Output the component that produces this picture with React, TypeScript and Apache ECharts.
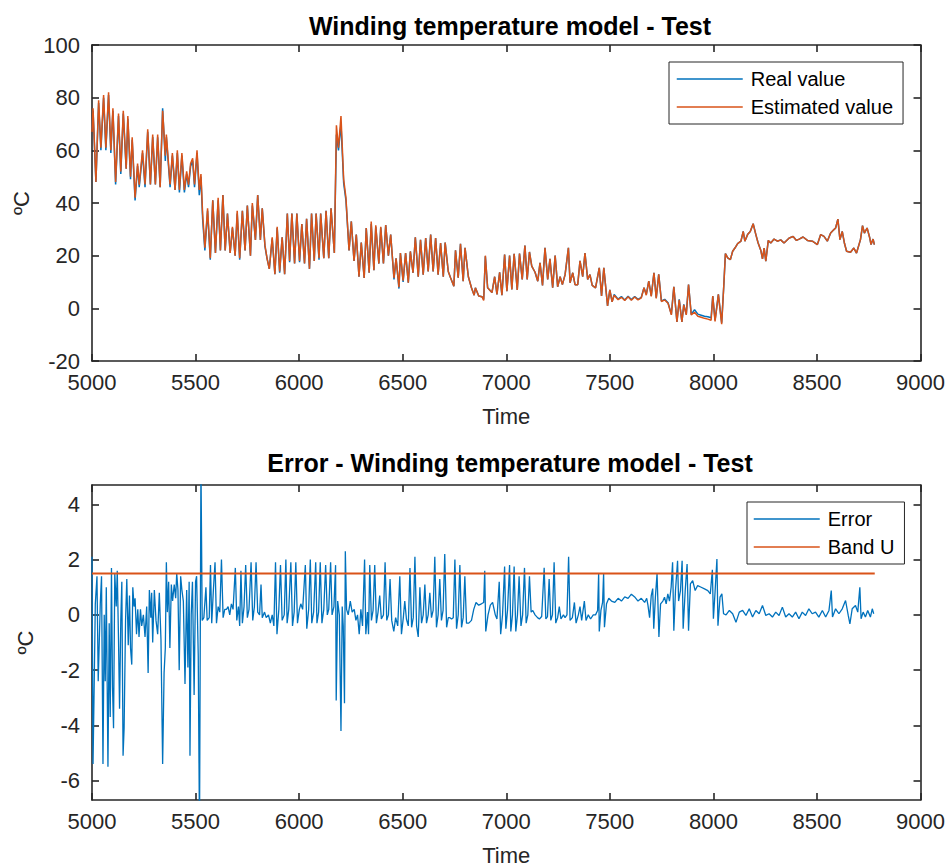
import React, { useEffect, useRef } from 'react';
import * as echarts from 'echarts';

// ---------- Data ----------
const tTemp = [
  5000,5005,5019,5032,5043,5056,5067,5080,5091,5101,
  5114,5128,5139,5151,5165,5173,5186,5194,5208,5220,
  5228,5244,5256,5269,5282,5293,5306,5317,5329,5341,
  5354,5359,5377,5388,5401,5412,5422,5434,5446,5457,
  5466,5476,5486,5495,5507,5518,5526,5534,5545,5558,
  5571,5583,5596,5609,5620,5632,5643,5654,5667,5678,
  5691,5701,5713,5726,5739,5750,5765,5774,5789,5800,
  5813,5822,5835,5845,5856,5870,5883,5894,5906,5918,
  5930,5943,5954,5965,5978,5989,6002,6013,6026,6036,
  6050,6060,6073,6082,6096,6104,6119,6130,6143,6154,
  6170,6180,6190,6202,6215,6226,6241,6252,6265,6276,
  6289,6300,6314,6324,6338,6348,6361,6370,6385,6394,
  6407,6418,6431,6442,6458,6468,6482,6489,6502,6514,
  6527,6537,6550,6561,6575,6586,6599,6611,6623,6635,
  6647,6659,6671,6683,6696,6705,6720,6731,6747,6755,
  6768,6779,6792,6801,6817,6832,6845,6851,6867,6883,
  6891,6899,6910,6931,6944,6955,6968,6979,6992,7003,
  7016,7027,7038,7053,7064,7077,7090,7101,7112,7123,
  7139,7152,7163,7175,7187,7200,7211,7224,7236,7248,
  7260,7271,7284,7300,7308,7321,7332,7345,7356,7369,
  7380,7393,7404,7415,7431,7449,7460,7471,7489,7500,
  7511,7521,7540,7556,7572,7588,7604,7620,7636,7652,
  7665,7676,7688,7700,7713,7724,7736,7749,7765,7781,
  7797,7809,7824,7835,7848,7857,7869,7880,7893,7909,
  7925,7941,7957,7973,7989,7997,8008,8024,8040,8050,
  8058,8069,8082,8093,8104,8117,8133,8144,8152,8165,
  8178,8192,8205,8216,8229,8237,8245,8253,8265,8277,
  8293,8309,8325,8341,8366,8385,8401,8414,8433,8454,
  8478,8502,8518,8534,8550,8566,8582,8590,8601,8611,
  8622,8633,8643,8662,8678,8691,8710,8720,8729,8742,
  8755,8761,8771,8777,
];

const realVals = [
  68,75,48,78,60,80,60,81,59,75,
  47,73,51,74,53,72,49,64,41,54,
  46,59,46,67,47,65,47,65,46,76,
  56,65,46,58,45,59,44,58,44,51,
  46,54,56,46,59,43,50,34,22,37,
  18.5,41,21,41,22,43,22,36,21,30.5,
  20,36,18.5,37,22,39,20,39,26,43,
  26,38,23.5,19,15,26.5,13,30.5,13.5,27,
  13,36,17.5,36,17,36,17.5,32,17,34,
  15,36,18,36,18.5,36,19,37,19,38,
  21,66,60,70,47.5,41,22,33,18,28,
  12,25,11.5,30.5,13.5,32,14.5,31,17,30.7,
  17,31.6,20,28,11,19,7.5,21,10,21,
  9.7,21.6,13.5,27,12,26,12.8,26.7,14,28,
  14,26.7,12.8,24.8,12,25,14,11.6,8.4,22,
  11.6,24.5,10.3,23,12,7.8,5,7.8,4.7,4.4,
  3.4,19.8,7.8,6,12,5.3,13.7,5,20.4,6.5,
  20,7.2,20.7,7,20.8,11,23.8,11,21.4,16,
  13.7,10.3,17.3,8.7,23,11,18.8,7.8,20,8.2,
  12,9,12.8,23,9.7,13.5,9,9,18,12,
  21,11,12.8,8.7,7.8,15.4,4.7,15.4,0.9,7,
  2.5,5.3,3.5,4.5,3.2,4.6,3.3,4.5,3.4,4.2,
  7.8,5.3,10.3,4.7,13.5,4,12.9,2.8,3.4,2.1,
  -2.3,8.2,-5.2,3.4,-5.2,1.5,-2.3,9,-2.3,-0.5,
  -2.2,-2.6,-3,-3.2,-3.6,4.7,-4.5,5.3,-5.5,8.4,
  20.8,19.2,18.5,21.7,22.9,24.6,25.5,29.2,25.5,28,
  29.2,32.1,28,24.8,22,18.8,22.9,17.9,25.8,24.8,
  26.3,25.5,26,24.8,26.7,27.3,25.8,26.3,27.1,25.8,
  25.5,24.2,28,27.3,25.5,28.6,29.9,30.5,33.9,26.1,
  29.2,24.6,21.7,21.3,22.9,21,26.1,31.4,28.6,30.5,
  26.7,24.2,26.3,24.2,
];

const estVals = [
  67,76,48,79,61,81,61,82,60,76,
  48,74,52,75,53,73,50,65,42,55,
  47,60,47,68,47,66,47,66,46,75,
  58,66,47,59,45,60,45,59,45,52,
  47,55,57,47,60,45,51,36,23,38,
  19,41,21,42,22,43,22,36,21,31,
  20,37,19,37,22,39,20,40,26,43,
  26,38,24,19,15,27,13,31,14,27,
  13,36,18,36,17,36,18,32,17,34,
  15,36,18,36,19,36,19,37,19,38,
  21,69.5,61,73,49,42,22,33,18,28,
  12,25,11.5,30.5,13.5,33,14.5,31.5,17,31,
  17,31.6,20,28,11.5,19,8,21,10.5,21,
  9.7,21.6,13.5,27,12,26,12.8,26.7,14,28,
  14,26.7,12.8,24.8,12,25,14,11.6,8.4,22,
  11.6,24.5,10.3,23,12,7.8,5,7.8,4.7,4.4,
  3,20,7.8,6,12,5.3,13.7,5,20.4,6.5,
  20,7.2,20.7,7,20.8,11,23.8,11,21.4,16,
  13.7,10.3,17.3,8.7,23,11,18.8,7.8,20,8.2,
  12,9,12.8,23,9.7,13.5,9,9,18,12,
  21,11,12.8,8.7,7.8,15.4,4.7,15.4,0.9,7,
  2.5,5,3.3,4.2,3,4.4,3.1,4.3,3.2,4,
  7.8,5,10.3,4.5,13.5,3.8,12.9,2.6,3.2,1.9,
  -2.5,8.2,-5.2,3.2,-5.2,1.3,-2.5,9,-2.5,-1.5,
  -3,-3.4,-3.8,-4.1,-4.5,4.7,-5,5.3,-6,8.4,
  20.8,19.2,18.5,21.7,22.9,24.6,25.5,29.2,25.5,28,
  29.2,32.1,28,24.8,22,18.8,22.9,17.9,25.8,24.8,
  26.3,25.5,26,24.8,26.7,27.3,25.8,26.3,27.1,25.8,
  25.5,24.2,28,27.3,25.5,28.6,29.9,30.5,33.9,26.1,
  29.2,24.6,21.7,21.3,22.9,21,26.1,31.4,28.6,30.5,
  26.7,24.2,26.3,24.2,
];

const tErr = [
  5000,5005,5011,5016,5024,5030,5040,5046,5053,5059,
  5064,5069,5077,5083,5088,5094,5099,5104,5110,5117,
  5122,5128,5133,5139,5144,5150,5155,5162,5168,5175,
  5181,5186,5192,5197,5203,5208,5215,5221,5227,5234,
  5240,5248,5256,5264,5271,5277,5284,5288,5293,5301,
  5309,5317,5325,5333,5341,5348,5354,5359,5364,5370,
  5376,5383,5389,5397,5404,5409,5415,5421,5428,5434,
  5441,5449,5457,5463,5469,5473,5479,5485,5493,5500,
  5505,5513,5519,5526,5532,5540,5550,5556,5566,5572,
  5578,5586,5594,5601,5609,5617,5625,5633,5641,5649,
  5657,5665,5673,5681,5692,5699,5707,5713,5719,5726,
  5734,5742,5750,5758,5768,5776,5784,5792,5800,5809,
  5816,5822,5833,5841,5852,5861,5870,5878,5886,5893,
  5902,5910,5918,5928,5936,5942,5950,5960,5968,5976,
  5984,5992,6001,6008,6017,6030,6037,6046,6054,6061,
  6070,6080,6086,6094,6102,6110,6119,6128,6136,6143,
  6152,6159,6168,6176,6179,6186,6194,6202,6208,6213,
  6219,6223,6229,6237,6247,6256,6266,6274,6282,6290,
  6298,6306,6316,6322,6330,6335,6341,6349,6357,6365,
  6373,6381,6389,6397,6407,6415,6423,6431,6439,6447,
  6457,6466,6476,6486,6494,6503,6510,6518,6527,6535,
  6543,6551,6559,6567,6575,6583,6591,6599,6607,6615,
  6623,6631,6639,6647,6655,6663,6671,6679,6687,6695,
  6703,6712,6720,6728,6736,6744,6752,6760,6768,6776,
  6784,6792,6800,6808,6819,6832,6843,6854,6867,6880,
  6891,6896,6901,6912,6923,6934,6947,6955,6966,6973,
  6982,6992,6998,7006,7016,7022,7030,7038,7046,7054,
  7062,7071,7079,7088,7096,7104,7112,7120,7128,7139,
  7151,7160,7171,7183,7191,7199,7207,7215,7223,7231,
  7239,7248,7256,7264,7276,7284,7293,7301,7308,7319,
  7329,7337,7348,7356,7364,7377,7385,7396,7407,7420,
  7431,7441,7446,7449,7457,7465,7470,7474,7484,7495,
  7508,7524,7540,7556,7572,7588,7604,7620,7636,7652,
  7668,7678,7684,7692,7700,7707,7712,7720,7728,7737,
  7745,7756,7764,7772,7780,7788,7796,7803,7809,7817,
  7827,7832,7841,7849,7854,7864,7873,7880,7889,7900,
  7912,7924,7941,7957,7973,7985,7995,8000,8008,8017,
  8022,8032,8041,8049,8061,8077,8093,8109,8125,8141,
  8157,8173,8189,8205,8221,8237,8253,8269,8285,8301,
  8317,8333,8349,8365,8381,8397,8413,8429,8445,8461,
  8477,8493,8509,8526,8542,8558,8569,8575,8590,8606,
  8622,8638,8651,8659,8670,8686,8697,8707,8713,8723,
  8734,8745,8758,8767,8774,
];

const errVals = [
  2.1,-5.4,-2.3,0.4,1.4,-2.4,0.4,1.4,-5.4,0,
  -2.4,1,-5.5,-0.3,-3.7,1.7,-2.6,-4.1,1.5,0.3,
  1.6,-0.9,-3.4,-0.2,1.2,-5.1,-4.1,-0.2,1.3,-1.1,
  0.7,-1.2,-1.8,1,0.3,0.6,-0.7,0.2,-0.8,0.2,
  -0.4,0,-0.8,0.3,-2.1,0.9,-0.1,0.8,-1,0.9,
  -0.2,-0.7,0.8,-0.9,-5.4,-2.1,-1.2,1.9,0.1,1.2,
  -1.2,1.1,0.5,1.1,0.6,1.5,0.9,-2,1.4,0.9,
  0.5,-2.5,0.9,-1.9,1.2,-5.1,0,1.2,-2.9,1.2,
  1.4,-1.5,-8,5.5,-0.2,-0.1,1,-0.2,-0.1,1.8,
  -0.3,0.9,1.9,-0.3,0.3,0.1,2,-0.1,0.2,0.2,
  0.3,0,0.4,0.2,1.7,-0.2,0.3,-0.4,1.6,-0.3,
  0.3,1.8,-0.1,0.2,1.9,-0.2,0.3,1.9,0.1,0,
  1.1,-0.1,0.1,-0.1,0,-0.3,0,-0.4,1.9,-0.7,
  0.2,1.8,-0.2,0,2,-0.3,0.2,1.9,-0.4,0.1,
  1.9,-0.3,0.2,0.4,0.2,1.8,-0.5,0.2,2,-0.3,
  0.1,1.9,-0.3,0.1,1.9,-0.3,0.2,1.8,0,0.2,
  1.9,0,0.3,1.8,-3.1,0.5,0,-4.2,0.3,-0.4,
  -3.2,2.3,0.2,0,0.5,0.1,0.2,-0.2,0,-0.7,
  0.2,-0.4,2,-0.7,0.1,-0.7,1.8,-0.2,0.16,1.8,
  -0.3,0.1,0.7,-0.15,0,1.9,-0.2,0,1.3,-0.2,
  -0.6,-0.1,-0.4,1.4,-0.7,-0.1,0.5,-0.15,-0.4,1.7,
  -0.45,-0.1,2.1,-0.4,-0.8,1,-0.3,0,1.1,-0.3,
  0,0.8,-0.1,0.16,2.1,-0.45,0,1.3,-0.2,0.16,
  2.2,-0.45,-0.1,-0.1,-0.15,-0.1,2,-0.5,0,1.8,
  -0.45,-0.1,1.4,-0.3,-0.3,-0.2,0.2,0.45,0.35,0.4,
  0.45,1.6,-0.6,0,0.35,0.45,0,-0.15,1.2,-0.7,
  0,1.75,-0.5,0.16,1.8,-0.6,0,1.75,-0.6,0,
  1.4,-0.4,0,1.7,-0.3,0,1.4,0.1,0.16,0,
  -0.1,-0.15,-0.06,1.7,-0.15,-0.06,1.3,-0.2,0,1.9,
  -0.3,-0.1,0.3,-0.15,0,-0.1,0,2.1,-0.2,-0.1,
  0.45,-0.3,0,0.3,-0.2,0.5,-0.2,0,-0.15,0,
  0,0.16,1.5,-0.6,0.16,0.45,1.5,-0.45,0.4,0.6,
  0.5,0.45,0.6,0.5,0.65,0.6,0.75,0.65,0.5,0.6,
  0.45,0.6,0.35,-0.1,0.7,0.95,-0.5,0.65,1.5,-0.8,
  0.4,0.5,0.64,0.4,0.76,0.5,1,1.9,-0.57,0.88,
  1.96,0.5,0.88,1.96,-0.5,0.88,1.84,-0.57,1.12,1.24,
  0.88,1.06,1,0.94,0.88,0.76,1.63,-0.14,0.82,2.02,
  -0.39,0.64,0.76,0.04,0,0.16,0.04,-0.27,0.1,0.16,
  -0.02,0.22,-0.08,0.16,0.04,0.34,-0.02,0.04,-0.08,0.1,
  -0.02,0.28,-0.08,0.04,-0.08,0.1,-0.14,0.1,-0.02,0.22,
  0.04,0.1,-0.08,0.16,-0.08,0.16,0.88,-0.08,0.22,0.04,
  0.22,0.52,-0.02,-0.33,0.22,0.34,0.1,1,-0.14,0.1,
  -0.08,0.16,-0.08,0.22,0.04,
];

const bandUValue = 1.5;
const bandUStart = 5000;
const bandUEnd = 8779;

const errTicks = [-6, -4, -2, 0, 2, 4];

// ---------- Styling ----------
const FONT = 'Liberation Sans, Arial, Helvetica, sans-serif';
const AX = '#262626';
const BLUE = '#0072BD';
const ORANGE = '#D95319';

function xAxisDef(gridIndex: number, position: 'top' | 'bottom', labels: boolean) {
  return {
    type: 'value',
    gridIndex,
    position,
    min: 5000,
    max: 9000,
    interval: 500,
    name: labels ? 'Time' : '',
    nameLocation: 'middle',
    nameGap: 44,
    nameTextStyle: { color: AX, fontSize: 22, fontFamily: FONT },
    axisLine: { show: true, onZero: false, lineStyle: { color: AX, width: 1.6 } },
    axisTick: { show: true, inside: true, length: 7, lineStyle: { color: AX, width: 1.6 } },
    axisLabel: {
      show: labels, color: AX, fontSize: 22, fontFamily: FONT, margin: 10,
      formatter: (v: number) => String(v),
    },
    splitLine: { show: false },
  };
}

function yAxisDef(gridIndex: number, position: 'left' | 'right', labels: boolean, extra: any) {
  return {
    type: 'value',
    gridIndex,
    position,
    name: labels ? 'ºC' : '',
    nameLocation: 'middle',
    nameGap: 56,
    nameRotate: 90,
    nameTextStyle: { color: AX, fontSize: 22, fontFamily: FONT },
    axisLine: { show: true, onZero: false, lineStyle: { color: AX, width: 1.6 } },
    splitLine: { show: false },
    ...extra,
    axisTick: { show: true, inside: true, length: 7, lineStyle: { color: AX, width: 1.6 }, ...(extra.axisTick || {}) },
    axisLabel: {
      show: labels, color: AX, fontSize: 22, fontFamily: FONT, margin: 12,
      formatter: (v: number) => String(v),
      ...(extra.axisLabel || {}),
    },
  };
}

const legendBase = {
  orient: 'vertical',
  backgroundColor: '#ffffff',
  borderColor: AX,
  borderWidth: 1,
  borderRadius: 0,
  itemWidth: 66,
  itemHeight: 14,
  itemGap: 8,
  itemStyle: { opacity: 0 },
  lineStyle: { width: 1.5 },
  textStyle: { color: '#000', fontSize: 20, fontFamily: FONT, padding: [0, 0, 0, 3] },
  selectedMode: false,
};

export default function App() {
  const ref = useRef<HTMLDivElement>(null);

  useEffect(() => {
    if (!ref.current) return;
    const chart = echarts.init(ref.current, null, { renderer: 'svg' });

    const realData = tTemp.map((t, i) => [t, realVals[i]]);
    const estData = tTemp.map((t, i) => [t, estVals[i]]);
    const errData = tErr.map((t, i) => [t, errVals[i]]);
    const bandData = [[bandUStart, bandUValue], [bandUEnd, bandUValue]];

    chart.setOption({
      animation: false,
      backgroundColor: '#ffffff',
      title: [
        {
          text: 'Winding temperature model - Test',
          left: 510,
          top: 13,
          textAlign: 'center',
          padding: 0,
          textStyle: { fontSize: 25, fontWeight: 'bold', color: '#000', fontFamily: FONT },
        },
        {
          text: 'Error - Winding temperature model - Test',
          left: 510,
          top: 450,
          textAlign: 'center',
          padding: 0,
          textStyle: { fontSize: 25, fontWeight: 'bold', color: '#000', fontFamily: FONT },
        },
      ],
      grid: [
        { left: 92, width: 829, top: 45, height: 316 },
        { left: 92, width: 829, top: 485, height: 315 },
      ],
      xAxis: [
        xAxisDef(0, 'bottom', true),
        xAxisDef(0, 'top', false),
        xAxisDef(1, 'bottom', true),
        xAxisDef(1, 'top', false),
      ],
      yAxis: [
        yAxisDef(0, 'left', true, { min: -20, max: 100, interval: 20 }),
        yAxisDef(0, 'right', false, { min: -20, max: 100, interval: 20 }),
        yAxisDef(1, 'left', true, {
          min: -6.7, max: 4.7,
          axisLabel: { customValues: errTicks },
          axisTick: { customValues: errTicks },
        }),
        yAxisDef(1, 'right', false, {
          min: -6.7, max: 4.7,
          axisLabel: { customValues: errTicks },
          axisTick: { customValues: errTicks },
        }),
      ],
      legend: [
        {
          ...legendBase,
          data: ['Real value', 'Estimated value'],
          left: 669,
          top: 62,
          padding: [7, 10, 7, 7],
        },
        {
          ...legendBase,
          data: ['Error', 'Band U'],
          left: 747,
          top: 502,
          padding: [7, 10, 7, 6],
        },
      ],
      series: [
        {
          name: 'Real value', type: 'line', xAxisIndex: 0, yAxisIndex: 0,
          data: realData, showSymbol: false, symbol: 'none',
          lineStyle: { color: BLUE, width: 1.5 }, itemStyle: { color: BLUE },
        },
        {
          name: 'Estimated value', type: 'line', xAxisIndex: 0, yAxisIndex: 0,
          data: estData, showSymbol: false, symbol: 'none',
          lineStyle: { color: ORANGE, width: 1.5 }, itemStyle: { color: ORANGE },
        },
        {
          name: 'Error', type: 'line', xAxisIndex: 2, yAxisIndex: 2,
          data: errData, showSymbol: false, symbol: 'none', clip: true,
          lineStyle: { color: BLUE, width: 1.3 }, itemStyle: { color: BLUE },
        },
        {
          name: 'Band U', type: 'line', xAxisIndex: 2, yAxisIndex: 2,
          data: bandData, showSymbol: false, symbol: 'none',
          lineStyle: { color: ORANGE, width: 2 }, itemStyle: { color: ORANGE },
        },
      ],
    });

    return () => chart.dispose();
  }, []);

  return (
    <div
      ref={ref}
      style={{ position: 'fixed', left: 0, top: 0, width: 948, height: 867, background: '#fff' }}
    />
  );
}
